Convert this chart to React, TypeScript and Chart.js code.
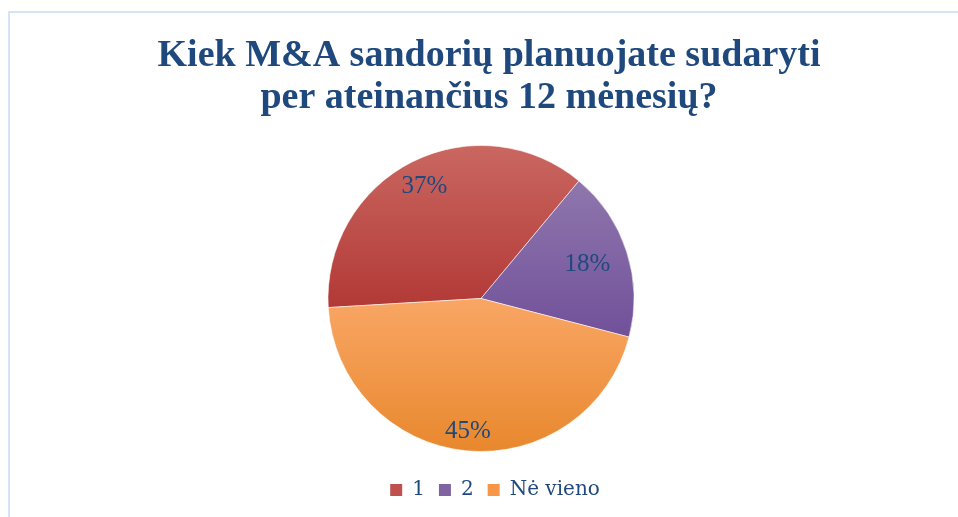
import React, { useEffect, useRef } from 'react';
import { Chart, registerables } from 'chart.js';

Chart.register(...registerables);

const TITLE_LINES = ['Kiek M&A sandorių planuojate sudaryti', 'per ateinančius 12 mėnesių?'];
const CATEGORIES = ['1', '2', 'Nė vieno'];
const VALUES = [37, 18, 45];

const TOP_COLORS = ['#ca6761', '#8f77ad', '#f9a665'];
const BOTTOM_COLORS = ['#b23936', '#71509a', '#e8882d'];
const LEGEND_COLORS = ['#c0504d', '#8064a2', '#f79646'];
const LABEL_RADIUS = [0.82, 0.73, 0.87];
const ROTATION = 266.6;
const TEXT_COLOR = '#1f497d';
const TITLE_SHIFT = 8;
const LEGEND_SHIFT = 14;

function sliceGradient(ctx: any) {
  const i = ctx.dataIndex ?? 0;
  const chart = ctx.chart;
  const area = chart.chartArea;
  if (!area) return LEGEND_COLORS[i];
  const cx = (area.left + area.right) / 2;
  const cy = (area.top + area.bottom) / 2;
  const r = Math.min(area.right - area.left, area.bottom - area.top) / 2;
  const total = VALUES.reduce((a, b) => a + b, 0);
  let start = ((ROTATION - 90) * Math.PI) / 180;
  for (let j = 0; j < i; j++) start += (VALUES[j] / total) * Math.PI * 2;
  const end = start + (VALUES[i] / total) * Math.PI * 2;
  const ys = [cy, cy + r * Math.sin(start), cy + r * Math.sin(end)];
  for (let k = -4; k <= 4; k++) {
    const a = -Math.PI / 2 + k * Math.PI;
    if (a > start && a < end) ys.push(cy + r * Math.sin(a));
  }
  const minY = Math.min(...ys);
  const maxY = Math.max(...ys);
  const g = chart.ctx.createLinearGradient(0, minY, 0, maxY);
  g.addColorStop(0, TOP_COLORS[i]);
  g.addColorStop(1, BOTTOM_COLORS[i]);
  return g;
}

const labelPlugin = {
  id: 'sliceLabels',
  afterLayout(chart: any) {
    if (chart.titleBlock) {
      chart.titleBlock.left += TITLE_SHIFT;
      chart.titleBlock.right += TITLE_SHIFT;
    }
    if (chart.legend) {
      chart.legend.left += LEGEND_SHIFT;
      chart.legend.right += LEGEND_SHIFT;
    }
  },
  afterDatasetsDraw(chart: any) {
    const meta = chart.getDatasetMeta(0);
    const total = VALUES.reduce((a, b) => a + b, 0);
    const c = chart.ctx;
    c.save();
    c.font = "25px 'Liberation Serif', serif";
    c.fillStyle = TEXT_COLOR;
    c.textAlign = 'center';
    c.textBaseline = 'middle';
    meta.data.forEach((arc: any, i: number) => {
      const p = arc.getProps(['x', 'y', 'startAngle', 'endAngle', 'outerRadius'], true);
      const mid = (p.startAngle + p.endAngle) / 2;
      const rr = p.outerRadius * LABEL_RADIUS[i];
      const text = Math.round((VALUES[i] / total) * 100) + '%';
      c.fillText(text, p.x + Math.cos(mid) * rr, p.y + Math.sin(mid) * rr);
    });
    c.restore();
  },
};

export default function App() {
  const ref = useRef<HTMLCanvasElement>(null);
  useEffect(() => {
    if (!ref.current) return;
    const baseGen = (Chart as any).overrides.doughnut.plugins.legend.labels.generateLabels;
    const chart = new Chart(ref.current, {
      type: 'pie',
      data: {
        labels: CATEGORIES,
        datasets: [
          {
            data: VALUES,
            backgroundColor: sliceGradient as any,
            borderColor: 'rgba(255,255,255,0.55)',
            borderWidth: 1,
          },
        ],
      },
      options: {
        responsive: false,
        animation: false,
        rotation: ROTATION,
        layout: { padding: { left: 4, bottom: 7 } },
        plugins: {
          tooltip: { enabled: false },
          title: {
            display: true,
            text: TITLE_LINES,
            color: TEXT_COLOR,
            font: { family: "'Liberation Serif', serif", size: 38, weight: 'bold', lineHeight: 42 / 38 },
            padding: { top: 35, bottom: 26 },
          },
          legend: {
            position: 'bottom',
            title: { display: true, text: '', font: { size: 14, lineHeight: 1 }, padding: 0 },
            labels: {
              boxWidth: 12,
              boxHeight: 12,
              padding: 14,
              color: TEXT_COLOR,
              font: { family: "'DejaVu Serif', serif", size: 20 },
              generateLabels(ch: any) {
                const items = baseGen(ch);
                return items.map((it: any, i: number) => ({
                  ...it,
                  fillStyle: LEGEND_COLORS[i],
                  strokeStyle: LEGEND_COLORS[i],
                  lineWidth: 0,
                }));
              },
            },
          },
        },
      },
      plugins: [labelPlugin],
    } as any);
    return () => chart.destroy();
  }, []);

  return (
    <div style={{ position: 'fixed', left: 0, top: 0, width: 958, height: 517, overflow: 'hidden', background: '#fff' }}>
      <div
        style={{
          position: 'absolute',
          left: 8,
          top: 11,
          width: 952,
          height: 520,
          boxSizing: 'border-box',
          border: '2px solid #d6e3f4',
        }}
      />
      <canvas ref={ref} width={958} height={517} style={{ position: 'absolute', left: 0, top: 0 }} />
    </div>
  );
}
